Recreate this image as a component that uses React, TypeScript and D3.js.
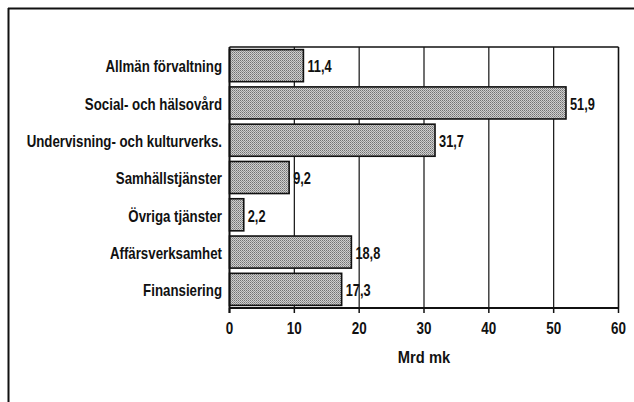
import React from "react";
import * as d3 from "d3";

const categories = [
  "Allmän förvaltning",
  "Social- och hälsovård",
  "Undervisning- och kulturverks.",
  "Samhällstjänster",
  "Övriga tjänster",
  "Affärsverksamhet",
  "Finansiering",
];
const values = [11.4, 51.9, 31.7, 9.2, 2.2, 18.8, 17.3];
const valueLabels = ["11,4", "51,9", "31,7", "9,2", "2,2", "18,8", "17,3"];
const xTicks = [0, 10, 20, 30, 40, 50, 60];
const xTitle = "Mrd mk";

const W = 634;
const H = 402;
const left = 229.5;
const right = 618.5;
const top = 47;
const bottom = 308;
const FONT = "'Liberation Sans', Arial, sans-serif";

function CText(props: {
  x: number;
  y: number;
  size: number;
  sx: number;
  anchor?: "start" | "middle" | "end";
  children: React.ReactNode;
}) {
  const { x, y, size, sx, anchor = "start", children } = props;
  return (
    <text
      transform={`translate(${x},${y}) scale(${sx},1)`}
      dy="0.36em"
      textAnchor={anchor}
      fontSize={size}
      fontWeight="bold"
      fill="#111"
    >
      {children}
    </text>
  );
}

export default function App() {
  const x = d3.scaleLinear().domain([0, 60]).range([left, right]);
  const y = d3
    .scaleBand<string>()
    .domain(categories)
    .range([top, bottom])
    .paddingInner(0.14)
    .paddingOuter(0.07);

  return (
    <svg
      width={W}
      height={H}
      style={{ position: "absolute", left: 0, top: 0, background: "#fff" }}
      fontFamily={FONT}
    >
      <defs>
        <pattern id="dither" width="2" height="2" patternUnits="userSpaceOnUse">
          <rect width="2" height="2" fill="#cfcfcf" />
          <rect width="1" height="1" fill="#727272" />
          <rect x="1" y="1" width="1" height="1" fill="#939393" />
        </pattern>
      </defs>
      <rect width={W} height={H} fill="#fff" />
      {/* outer frame */}
      <line x1={8.5} y1={8} x2={8.5} y2={H} stroke="#111" strokeWidth={2} />
      <line x1={8} y1={8.5} x2={W} y2={8.5} stroke="#111" strokeWidth={2} />

      {/* gridlines */}
      {xTicks.slice(1).map((t) => (
        <line
          key={"g" + t}
          x1={x(t)}
          x2={x(t)}
          y1={top}
          y2={bottom}
          stroke="#111"
          strokeWidth={t === 60 ? 1.6 : 1.2}
        />
      ))}
      <line x1={left} x2={right} y1={top} y2={top} stroke="#111" strokeWidth={1.3} />

      {/* bars */}
      {categories.map((c, i) => {
        const cy = y(c)! + y.bandwidth() / 2;
        return (
          <g key={c}>
            <rect
              x={x(0)}
              y={y(c)!}
              width={x(values[i]) - x(0)}
              height={y.bandwidth()}
              fill="url(#dither)"
              stroke="#111"
              strokeWidth={1.6}
            />
            <CText x={x(values[i]) + 4} y={cy + 1} size={16} sx={0.8}>
              {valueLabels[i]}
            </CText>
            <CText x={222} y={cy + 1} size={16} sx={0.83} anchor="end">
              {c}
            </CText>
          </g>
        );
      })}

      {/* axis */}
      <line x1={left} x2={left} y1={top} y2={bottom + 5} stroke="#111" strokeWidth={2} />
      <line x1={left} x2={right} y1={bottom} y2={bottom} stroke="#111" strokeWidth={2} />
      {xTicks.map((t) => (
        <g key={"t" + t}>
          <line x1={x(t)} x2={x(t)} y1={bottom} y2={bottom + 5} stroke="#111" strokeWidth={1.5} />
          <CText x={x(t)} y={328} size={16} sx={0.84} anchor="middle">
            {t}
          </CText>
        </g>
      ))}
      <CText x={(left + right) / 2} y={357} size={16} sx={0.92} anchor="middle">
        {xTitle}
      </CText>
    </svg>
  );
}
